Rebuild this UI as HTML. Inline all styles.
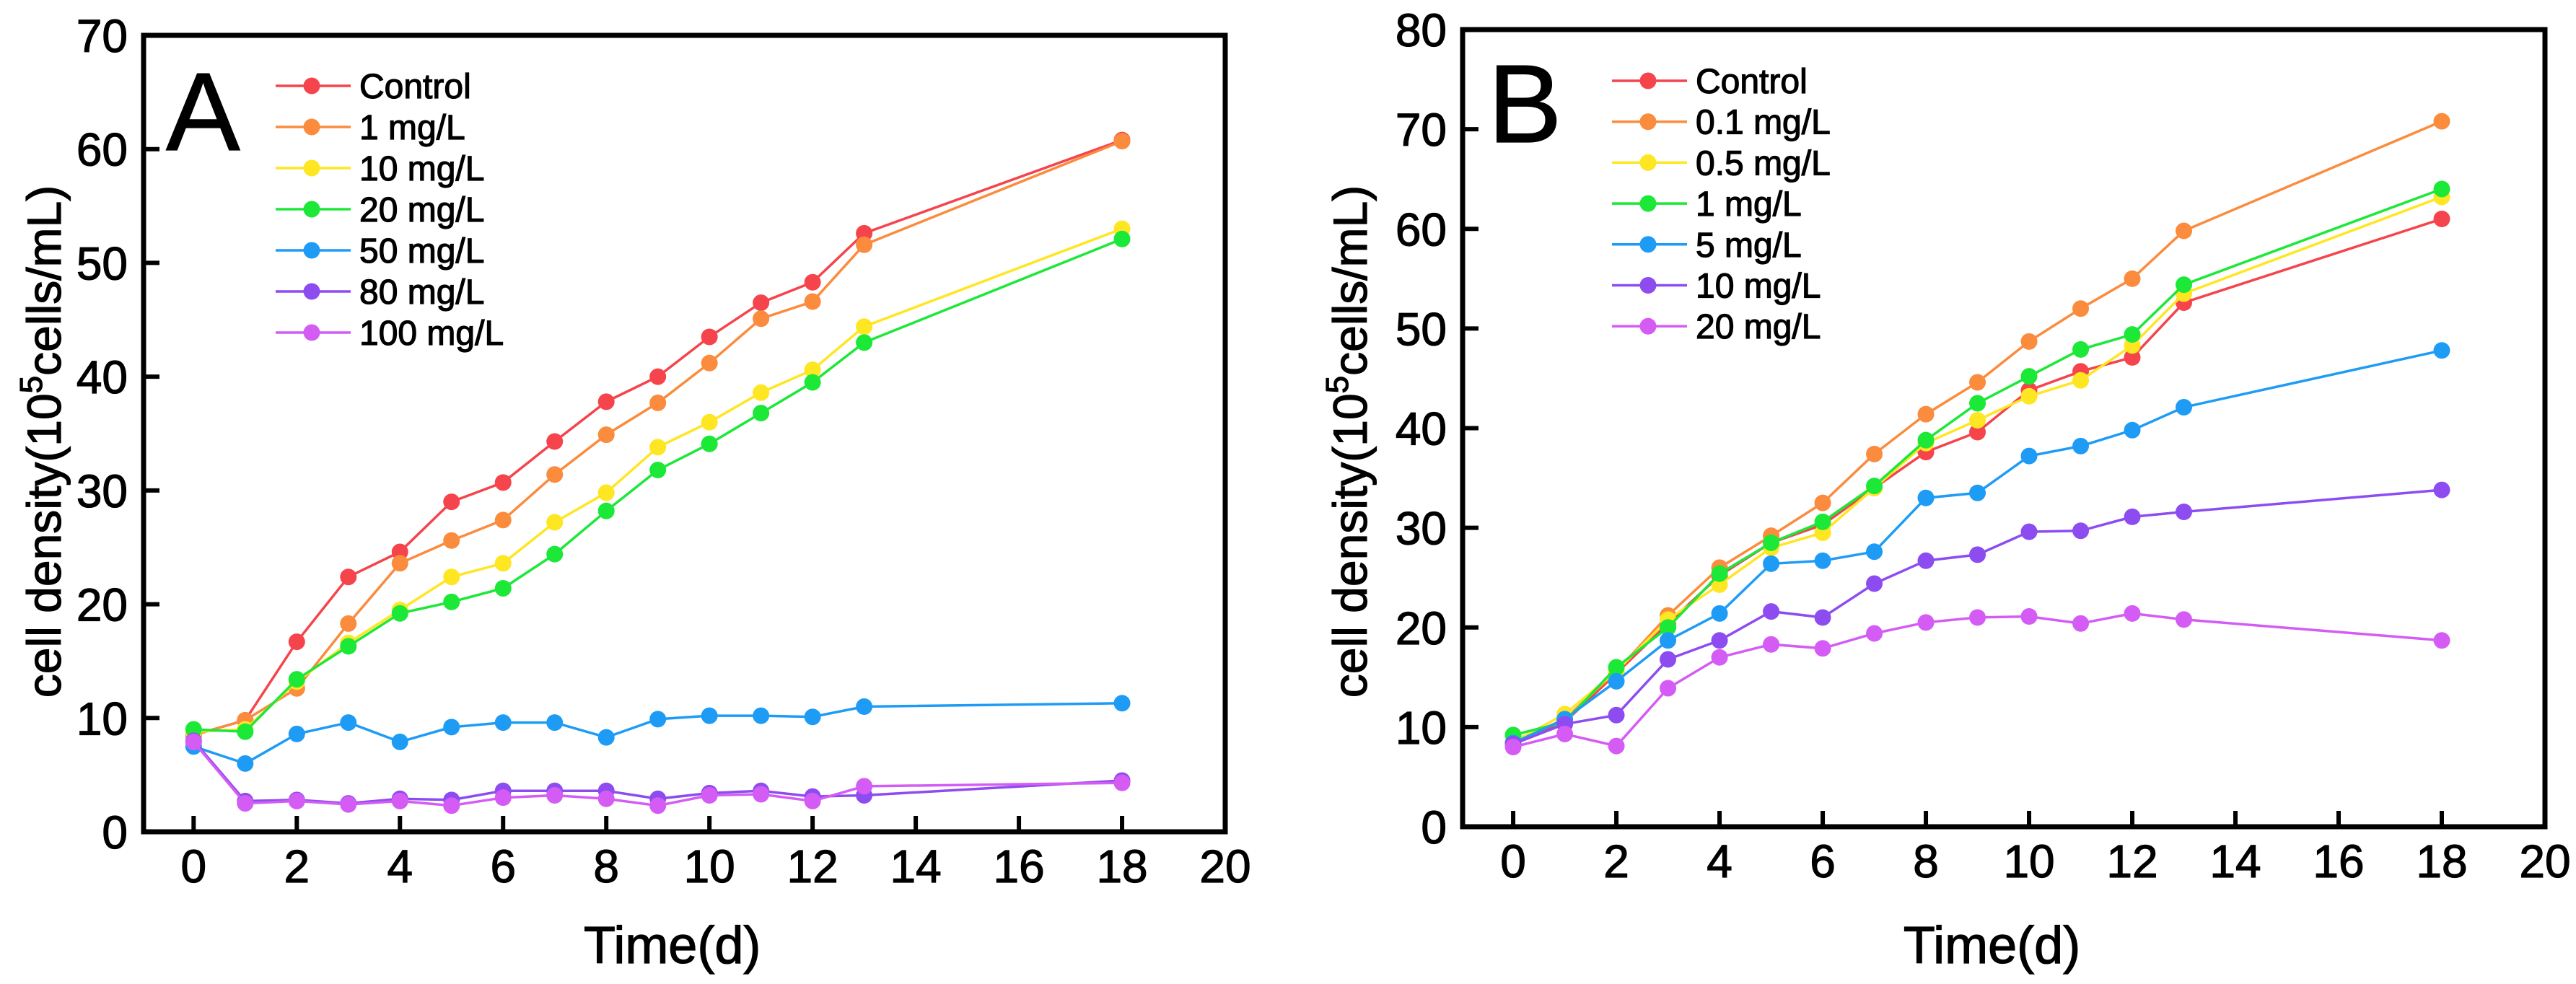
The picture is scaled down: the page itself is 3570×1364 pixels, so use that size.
<!DOCTYPE html>
<html><head><meta charset="utf-8"><style>
html,body{margin:0;padding:0;background:#fff;}
svg{display:block;font-family:"Liberation Sans",Arial,sans-serif;}
svg text{stroke:#000;stroke-width:1.2px;}
</style></head><body>
<svg id="fig" width="3570" height="1364" viewBox="0 0 3570 1364" xmlns="http://www.w3.org/2000/svg"></svg>
<script>
const days = [0,1,2,3,4,5,6,7,8,9,10,11,12,13,18];
const xTicks = [0,2,4,6,8,10,12,14,16,18,20];
const colors = ["#f5444c","#fb8b3d","#ffe622","#1ce838","#1e9cf5","#8d4cf0","#d45cf5"];

const labelsA = ["Control","1 mg/L","10 mg/L","20 mg/L","50 mg/L","80 mg/L","100 mg/L"];
const yTicksA = [0,10,20,30,40,50,60,70];
const a_control = [8.5,9.8,16.7,22.4,24.6,29,30.7,34.3,37.8,40,43.5,46.5,48.3,52.6,60.8];
const a_1 = [8.5,9.8,12.6,18.3,23.6,25.6,27.4,31.4,34.9,37.7,41.2,45.1,46.6,51.6,60.7];
const a_10 = [8.8,9,13.2,16.6,19.5,22.4,23.6,27.2,29.8,33.8,36,38.6,40.6,44.4,53];
const a_20 = [9,8.8,13.4,16.3,19.2,20.2,21.4,24.4,28.2,31.8,34.1,36.8,39.5,43,52.1];
const a_50 = [7.5,6,8.6,9.6,7.9,9.2,9.6,9.6,8.3,9.9,10.2,10.2,10.1,11,11.3];
const a_80 = [8,2.7,2.8,2.5,2.9,2.8,3.6,3.6,3.6,2.9,3.4,3.6,3.1,3.2,4.5];
const a_100 = [7.9,2.5,2.7,2.4,2.7,2.3,3,3.2,2.9,2.3,3.2,3.3,2.7,4,4.3];

const labelsB = ["Control","0.1 mg/L","0.5 mg/L","1 mg/L","5 mg/L","10 mg/L","20 mg/L"];
const yTicksB = [0,10,20,30,40,50,60,70,80];
const b_control = [8.3,10.5,15.4,20.4,25.2,28.5,30.3,34,37.6,39.6,43.8,45.7,47.1,52.6,61];
const b_01 = [8.5,10.8,15.6,21.2,26,29.2,32.5,37.4,41.4,44.6,48.7,52,55,59.8,70.8];
const b_05 = [8.5,11.3,15.6,20.8,24.3,28,29.5,34,38.5,40.8,43.2,44.8,48.3,53.5,63.2];
const b_1 = [9.2,10.5,16,20,25.4,28.5,30.6,34.2,38.8,42.5,45.2,47.9,49.4,54.4,64];
const b_5 = [8.4,10.8,14.6,18.7,21.4,26.4,26.7,27.6,33,33.5,37.2,38.2,39.8,42.1,47.8];
const b_10 = [8.3,10.3,11.2,16.8,18.7,21.6,21,24.4,26.7,27.3,29.6,29.7,31.1,31.6,33.8];
const b_20 = [8,9.3,8.1,13.9,17,18.3,17.9,19.4,20.5,21,21.1,20.4,21.4,20.8,18.7];

const NS="http://www.w3.org/2000/svg";
const svg=document.getElementById('fig');
function mk(tag,attrs,parent){const e=document.createElementNS(NS,tag);for(const k in attrs)e.setAttribute(k,attrs[k]);(parent||svg).appendChild(e);return e;}

function panel(cfg){
  const g=mk('g',{});
  
  
  const L=cfg.left,R=cfg.right,T=cfg.top,B=cfg.bottom;
  const xs=d=>L+(d-cfg.xmin)/(20-cfg.xmin)*(R-L);
  const ys=v=>B-(v/cfg.ymax)*(B-T);
  cfg.series.forEach((s,i)=>{
    const sg=mk('g',{},g);
    
    
    const pts=days.map((d,j)=>xs(d).toFixed(1)+','+ys(s[j]).toFixed(1)).join(' ');
    mk('polyline',{points:pts,fill:'none',stroke:colors[i],'stroke-width':3.5},sg);
    days.forEach((d,j)=>{
      const c=mk('circle',{cx:xs(d),cy:ys(s[j]),r:11.5,fill:colors[i]},sg);
      
      
    });
  });
  const fr=mk('rect',{x:L,y:T,width:R-L,height:B-T,fill:'none',stroke:'#000','stroke-width':7},g);
  
  
  xTicks.forEach(t=>{
    mk('line',{x1:xs(t),x2:xs(t),y1:B,y2:B-22,stroke:'#000','stroke-width':6},g);
    const tx=mk('text',{x:xs(t),y:B+70,'font-size':64,'text-anchor':'middle'},g);
    tx.textContent=t;
    
    
  });
  cfg.yTicks.forEach(t=>{
    mk('line',{x1:L,x2:L+22,y1:ys(t),y2:ys(t),stroke:'#000','stroke-width':6},g);
    const tx=mk('text',{x:L-22,y:ys(t)+23,'font-size':64,'text-anchor':'end'},g);
    tx.textContent=t;
    
    
  });
  const xt=mk('text',{x:(xs(0)+xs(18))/2+20,y:1335,'font-size':72,'text-anchor':'middle'},g);
  xt.textContent='Time(d)';
  
  
  const yt=mk('text',{transform:'translate('+cfg.ytx+',612) rotate(-90)','font-size':66,'text-anchor':'middle'},g);
  
  
  const t1=mk('tspan',{},yt);t1.textContent='cell density(10';
  const t2=mk('tspan',{dy:-26,'font-size':44},yt);t2.textContent='5';
  const t3=mk('tspan',{dy:26},yt);t3.textContent='cells/mL)';
  const pl=mk('text',{x:cfg.letterX,y:cfg.letterY,'font-size':154},g);
  pl.textContent=cfg.letter;
  
  
  const lg=mk('g',{},g);
  
  
  cfg.labels.forEach((lab,i)=>{
    const y=cfg.legY+i*cfg.legDy;
    const e=mk('g',{},lg);
    
    
    mk('line',{x1:cfg.legX,x2:cfg.legX+104,y1:y,y2:y,stroke:colors[i],'stroke-width':3.5},e);
    mk('circle',{cx:cfg.legX+50,cy:y,r:11.5,fill:colors[i]},e);
    const tx=mk('text',{x:cfg.legX+116,y:y+17,'font-size':48},e);
    tx.textContent=lab;
  });
}
panel({id:'a',left:199,right:1698,top:49,bottom:1153,xmin:-0.97,ymax:70,yTicks:yTicksA,
  series:[a_control,a_1,a_10,a_20,a_50,a_80,a_100],labels:labelsA,
  ytx:84,letter:'A',letterX:230,letterY:208,legX:382,legY:119,legDy:57});
panel({id:'b',left:2027,right:3527,top:41,bottom:1146,xmin:-0.98,ymax:80,yTicks:yTicksB,
  series:[b_control,b_01,b_05,b_1,b_5,b_10,b_20],labels:labelsB,
  ytx:1894,letter:'B',letterX:2062,letterY:197,legX:2234,legY:112,legDy:56.7});
</script>
</body></html>
